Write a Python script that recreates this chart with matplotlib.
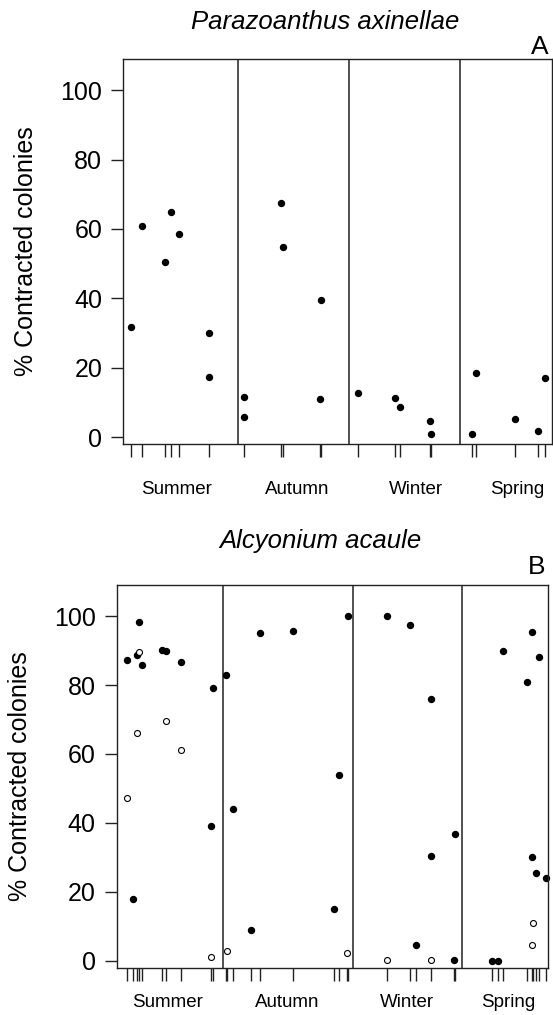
import numpy as np
import matplotlib.pyplot as plt

plt.rcParams['font.family'] = ['Liberation Sans', 'DejaVu Sans']

seasons = ['Summer', 'Autumn', 'Winter', 'Spring']

# Panel A: Parazoanthus axinellae (x = day of sampling year, y = % contracted)
a_day = [7, 16, 35, 40, 47, 72, 72,
         101, 101, 132, 133, 165, 164,
         196, 227, 231, 256, 257,
         291, 294, 327, 346, 352]
a_pct = [31.6, 60.9, 50.5, 64.8, 58.6, 29.9, 17.4,
         11.6, 5.7, 67.5, 54.8, 39.5, 10.9,
         12.6, 11.3, 8.6, 4.5, 0.8,
         0.8, 18.6, 5.1, 1.7, 16.9]
a_bounds = [95.8, 188.3, 280.8]
a_label_x = [45, 145, 244, 329]

# Panel B: Alcyonium acaule, filled and open symbols
b_fill_day = [9, 19, 17, 21, 38, 41, 54, 80, 79, 14,
              91, 97, 119, 112, 147, 185, 181, 193,
              225, 244, 262, 262, 282, 249, 281,
              313, 318, 322, 346, 352, 342, 346, 349, 358]
b_fill_pct = [87.2, 98.3, 88.7, 85.9, 90.1, 89.9, 86.6, 79.1, 39.1, 17.8,
              82.8, 43.9, 95.0, 8.9, 95.8, 54.0, 15.0, 100,
              100, 97.3, 75.8, 30.4, 36.8, 4.6, 0.1,
              0, 0, 89.9, 95.3, 88.1, 80.9, 30.2, 25.6, 23.9]
b_open_day = [19, 17, 41, 54, 9, 79,
              92, 192,
              225, 262,
              347, 346]
b_open_pct = [89.6, 66.2, 69.6, 61.1, 47.3, 1.2,
              2.9, 2.3,
              0.1, 0.1,
              10.9, 4.6]
b_bounds = [88.3, 197.2, 288.0]
b_label_x = [42, 142, 242, 326]

yticks = [0, 20, 40, 60, 80, 100]

fig = plt.figure(figsize=(5.53, 10.15), dpi=100)

axA = fig.add_axes([0.2224, 0.5626, 0.7756, 0.3793])
axB = fig.add_axes([0.2110, 0.0466, 0.7800, 0.3770])


def style_panel(ax, xmax, rug, bounds, label_x, label_y):
    ax.set_xlim(0, xmax)
    ax.set_ylim(-2, 109)
    for b in bounds:
        ax.axvline(b, color='#222222', lw=1.1)
    for s in ax.spines.values():
        s.set_color('#222222')
        s.set_linewidth(1.0)
    ax.set_yticks(yticks)
    ax.tick_params(axis='y', direction='out', length=9, width=1.0,
                   labelsize=18, pad=6, color='#222222')
    ax.set_xticks(sorted(set(rug)))
    ax.set_xticklabels([])
    ax.tick_params(axis='x', direction='out', length=9, width=1.0,
                   color='#222222', pad=0)
    ax.set_ylabel('% Contracted colonies', fontsize=18, labelpad=16)
    for name, lx in zip(seasons, label_x):
        ax.text(lx, label_y, name, transform=ax.get_xaxis_transform(),
                ha='center', va='center', fontsize=13.5)


style_panel(axA, 357.5, a_day, a_bounds, a_label_x, -0.119)
axA.plot(a_day, a_pct, 'o', ms=4.3, color='black', clip_on=False)

style_panel(axB, 359.4, b_fill_day + b_open_day, b_bounds, b_label_x, -0.092)
axB.plot(b_fill_day, b_fill_pct, 'o', ms=4.3, color='black', clip_on=False)
axB.plot(b_open_day, b_open_pct, 'o', ms=4.3, mfc='white', mec='black',
         mew=0.8, clip_on=False)

fig.text(0.588, 0.978, 'Parazoanthus axinellae', fontsize=18.5, style='italic',
         ha='center', va='center')
fig.text(0.976, 0.954, 'A', fontsize=19, ha='center', va='center')
fig.text(0.579, 0.467, 'Alcyonium acaule', fontsize=18.5, style='italic',
         ha='center', va='center')
fig.text(0.971, 0.441, 'B', fontsize=19, ha='center', va='center')

fig.savefig('out.png', dpi=100)
